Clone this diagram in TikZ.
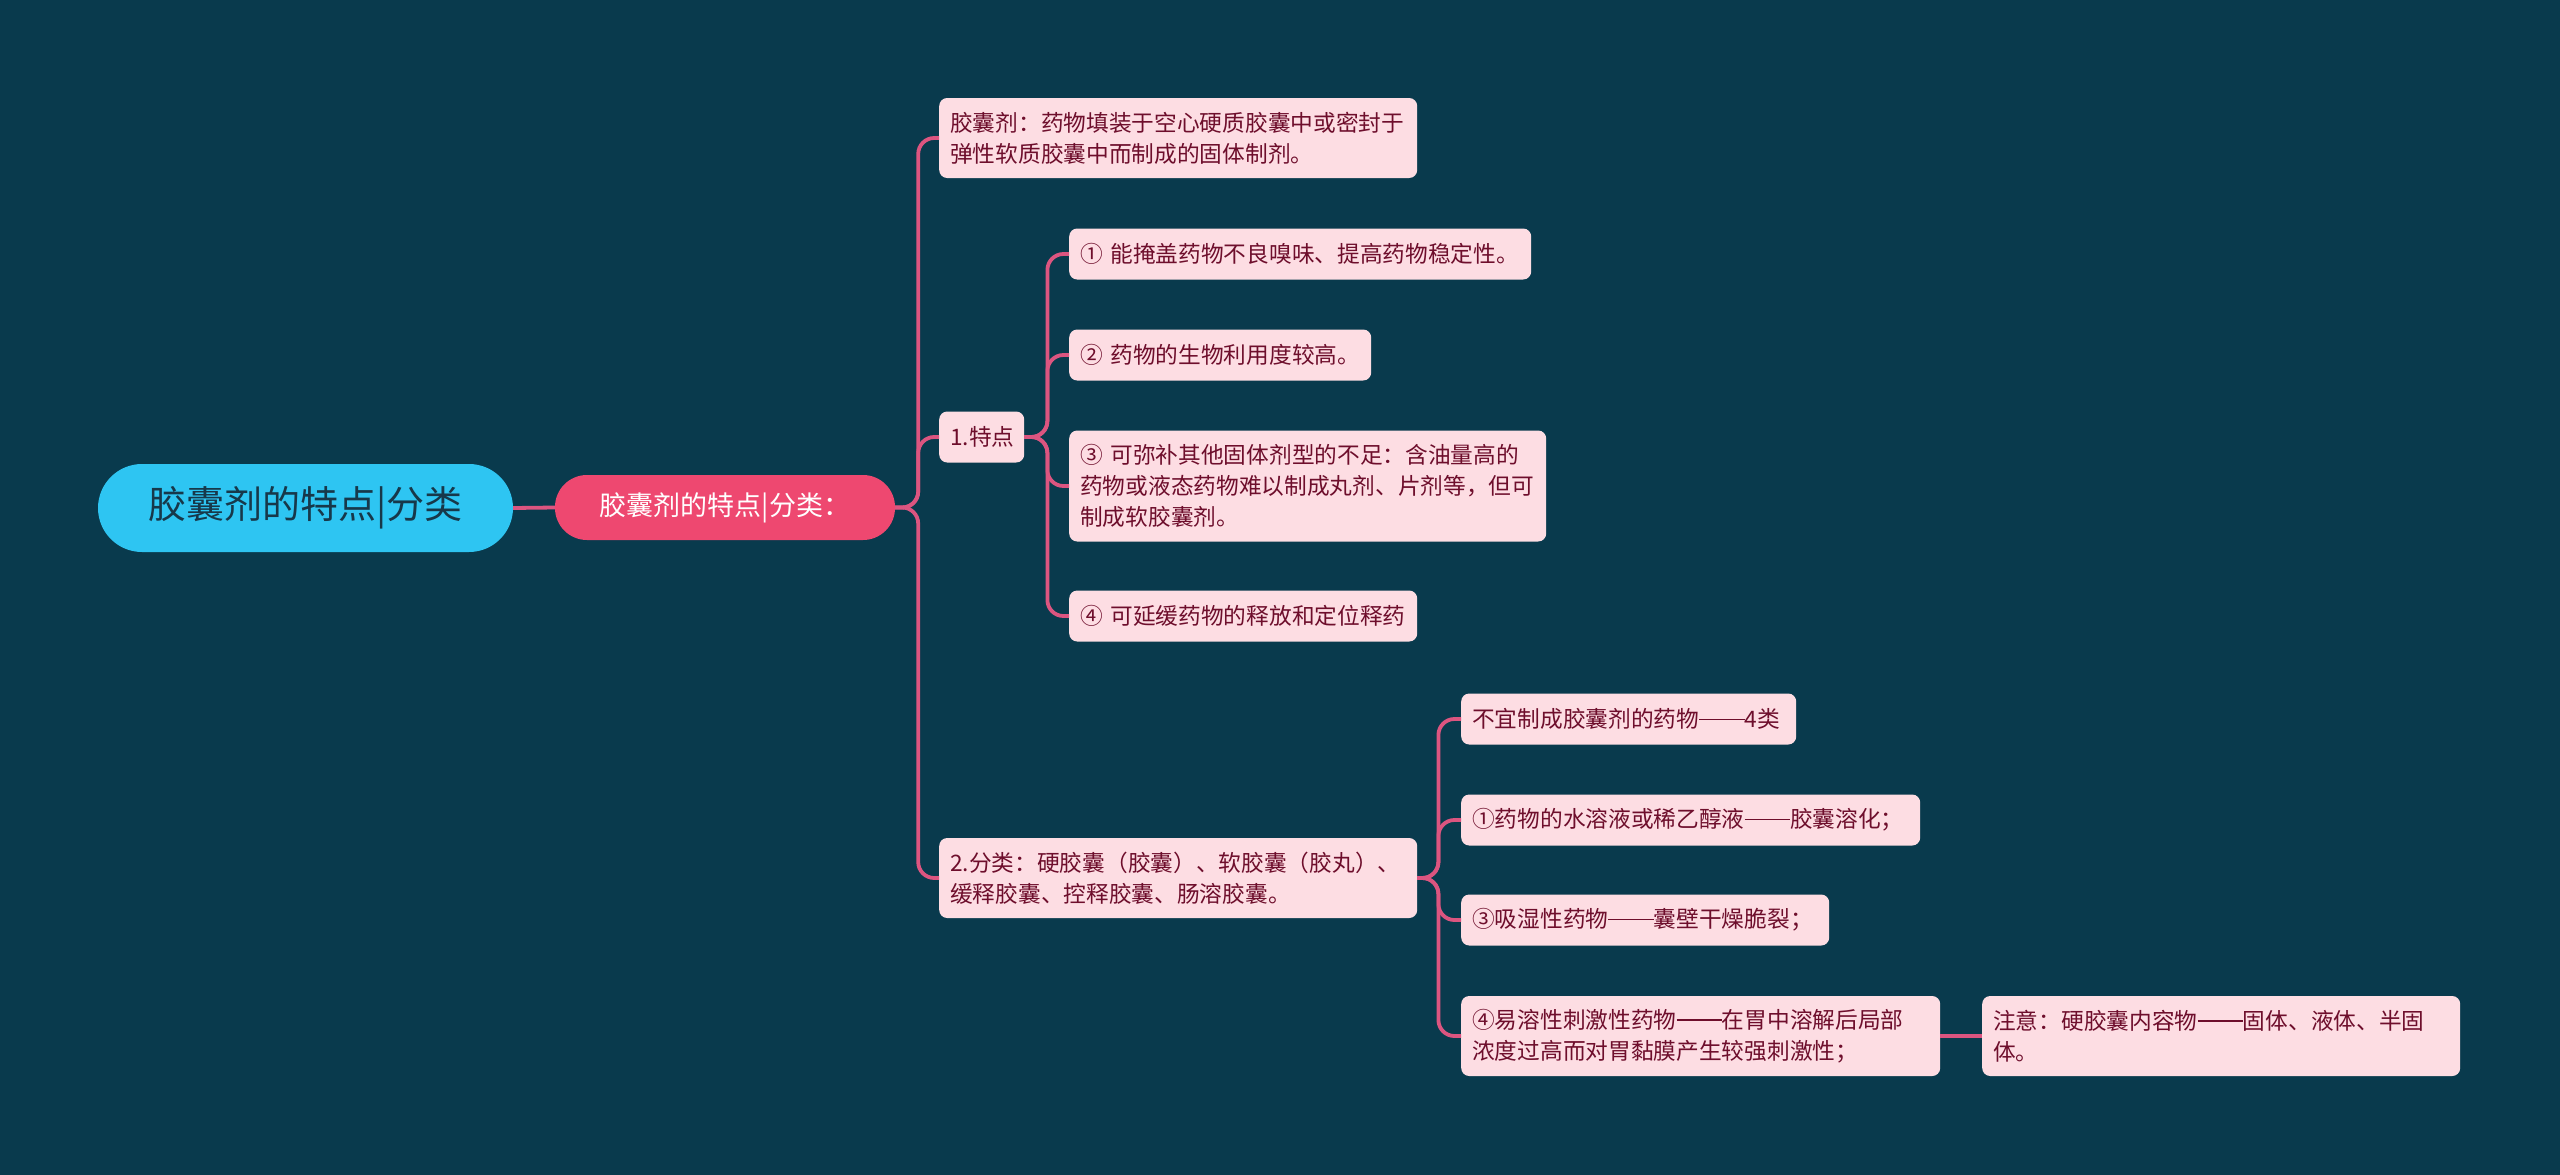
\documentclass[tikz,border=0pt]{standalone}
\usepackage{fontspec}
\setmainfont{Noto Sans CJK SC}
\definecolor{bg}{HTML}{093A4D}
\definecolor{rootc}{HTML}{2EC5F2}
\definecolor{roottext}{HTML}{17384A}
\definecolor{subc}{HTML}{EE4870}
\definecolor{leafc}{HTML}{FDDDE3}
\definecolor{leaftext}{HTML}{6E0E2C}
\definecolor{linec}{HTML}{DC5580}
\newcommand{\ldash}{\rule[0.33em]{2em}{0.06em}}
\begin{document}
\begin{tikzpicture}[x=1pt,y=-1pt,
  rootnode/.style={fill=rootc, rounded corners=44pt, minimum width=415pt, minimum height=88pt,
    inner sep=0pt, text=roottext, font=\fontsize{38}{44}\selectfont},
  subnode/.style={fill=subc, rounded corners=32pt, minimum width=340pt, minimum height=65pt,
    inner sep=0pt, text=white, font=\fontsize{27}{32}\selectfont},
  leaf/.style={fill=leafc, rounded corners=8pt, anchor=west, align=left,
    inner xsep=11pt, inner ysep=0pt, text=leaftext, font=\fontsize{22.7}{31}\selectfont},
  conn/.style={draw=linec, line width=3.8pt, rounded corners=16pt}
]
\fill[bg] (0,0) rectangle (2560,1175);
\useasboundingbox (0,0) rectangle (2560,1175);

\node[rootnode] (root) at (305.5,508) {胶囊剂的特点|分类};
\node[subnode] (sub) at (725,507.5) {胶囊剂的特点|分类：};

\node[leaf, minimum width=478pt, text width=456pt, minimum height=80pt] (n1) at (939,138)
  {胶囊剂：药物填装于空心硬质胶囊中或密封于\\弹性软质胶囊中而制成的固体制剂。};
\node[leaf, minimum width=85pt, text width=63pt, minimum height=51pt] (n2) at (939,437)
  {1.特点};
\node[leaf, minimum width=478pt, text width=456pt, minimum height=80pt] (n3) at (939,878)
  {2.分类：硬胶囊（胶囊）、软胶囊（胶丸）、\\缓释胶囊、控释胶囊、肠溶胶囊。};

\node[leaf, minimum width=462pt, text width=440pt, minimum height=51pt] (a1) at (1069,254)
  {① 能掩盖药物不良嗅味、提高药物稳定性。};
\node[leaf, minimum width=302pt, text width=280pt, minimum height=51pt] (a2) at (1069,355)
  {② 药物的生物利用度较高。};
\node[leaf, minimum width=477pt, text width=455pt, minimum height=111pt] (a3) at (1069,486)
  {③ 可弥补其他固体剂型的不足：含油量高的\\药物或液态药物难以制成丸剂、片剂等，但可\\制成软胶囊剂。};
\node[leaf, minimum width=348pt, text width=326pt, minimum height=51pt] (a4) at (1069,616)
  {④ 可延缓药物的释放和定位释药};

\node[leaf, minimum width=335pt, text width=313pt, minimum height=51pt] (b1) at (1461,719)
  {不宜制成胶囊剂的药物\ldash 4类};
\node[leaf, minimum width=459pt, text width=437pt, minimum height=51pt] (b2) at (1461,820)
  {①药物的水溶液或稀乙醇液\ldash 胶囊溶化；};
\node[leaf, minimum width=368pt, text width=346pt, minimum height=51pt] (b3) at (1461,920)
  {③吸湿性药物\ldash 囊壁干燥脆裂；};
\node[leaf, minimum width=479pt, text width=457pt, minimum height=80pt] (b4) at (1461,1036)
  {④易溶性刺激性药物\ldash 在胃中溶解后局部\\浓度过高而对胃黏膜产生较强刺激性；};
\node[leaf, minimum width=478pt, text width=456pt, minimum height=80pt] (c1) at (1982,1036)
  {注意：硬胶囊内容物\ldash 固体、液体、半固\\体。};

\draw[conn] (root.east) -- (sub.west);
\foreach \c in {n1,n2,n3} {\draw[conn] (sub.east) -- ++(23,0) |- (\c.west);}
\foreach \c in {a1,a2,a3,a4} {\draw[conn] (n2.east) -- ++(23,0) |- (\c.west);}
\foreach \c in {b1,b2,b3,b4} {\draw[conn] (n3.east) -- ++(21,0) |- (\c.west);}
\draw[conn] (b4.east) -- (c1.west);
\end{tikzpicture}
\end{document}
